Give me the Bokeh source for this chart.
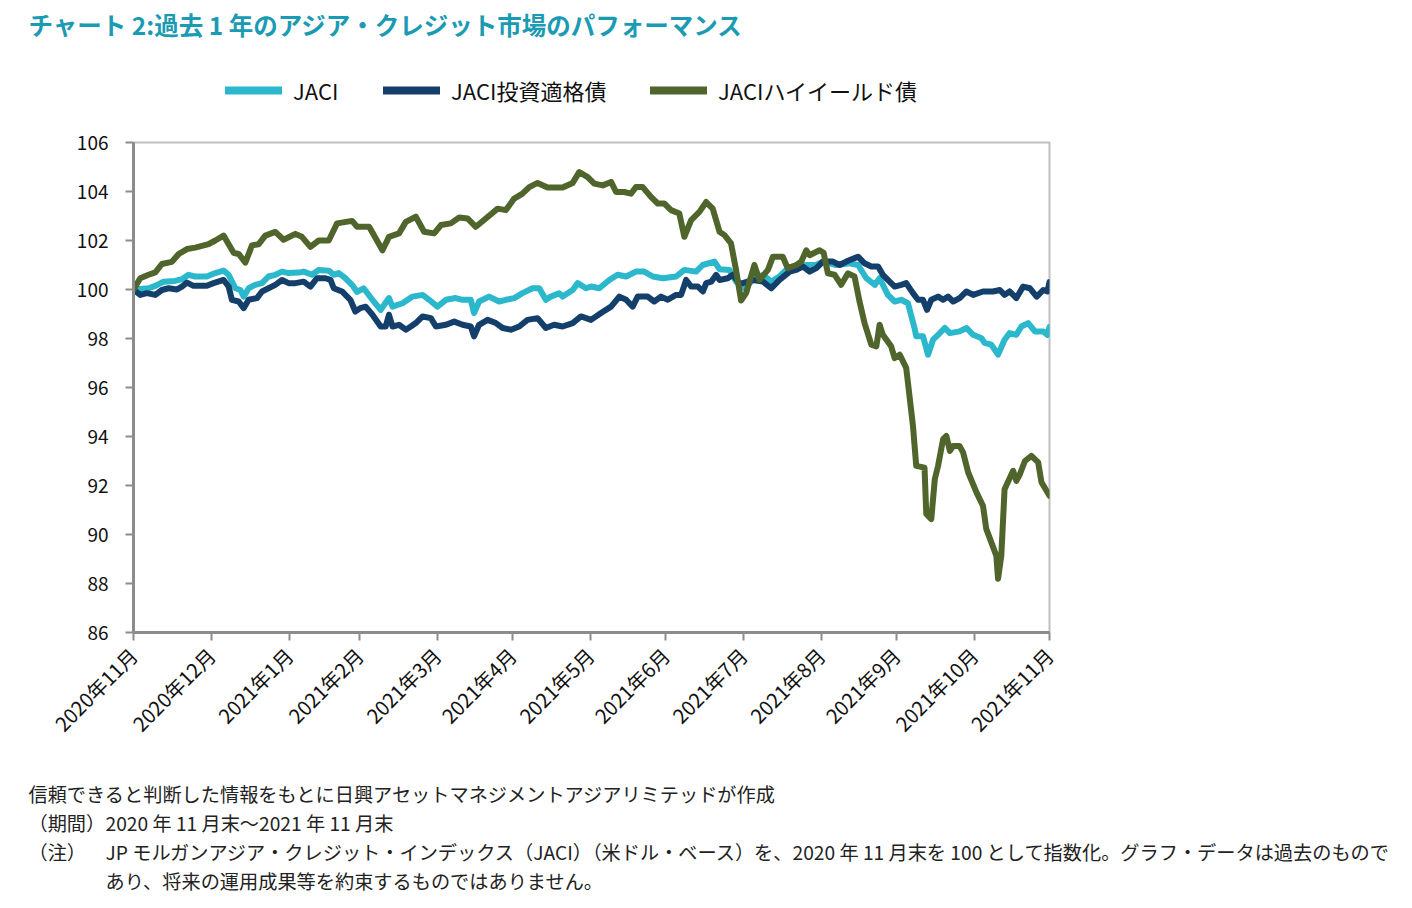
import datetime as dt
from math import pi, nan
from bokeh.plotting import figure
from bokeh.models import Range1d, FixedTicker, Legend, LegendItem, Label
from bokeh.embed import file_html
from bokeh.resources import INLINE

# ---------------- data (days after 2020-11-30, index level) ----------------
START = dt.datetime(2020, 11, 30)

jaci_days = [0, 6.0, 8.7, 12.0, 16.6, 19.3, 21.9, 24.6, 29.2, 32.6, 35.9, 37.9, 40.6, 42.6, 43.9, 45.9,
             48.5, 51.2, 53.8, 56.5, 59.2, 61.8, 65.8, 67.8, 71.1, 73.8, 77.8, 79.8, 81.8, 84.4, 87.1,
             89.1, 91.7, 95.2, 98.5, 101.8, 103.2, 107.2, 111.2, 115.2, 117.8, 121.1, 124.5, 128.4,
             131.1, 134.4, 135.7, 137.7, 141.7, 145.7, 148.4, 151.7, 155.0, 159.0, 161.7, 164.3, 166.3,
             169.6, 171.0, 175.0, 177.0, 180.3, 182.3, 185.6, 189.6, 192.9, 196.3, 200.2, 203.5, 206.9,
             210.9, 216.2, 219.5, 224.2, 226.8, 231.5, 233.5, 237.5, 240.1, 243.4, 246.8, 250.8, 254.1,
             257.4, 260.1, 264.1, 268.1, 272.1, 274.7, 280.0, 285.3, 288.7, 292.0, 295.4, 297.3, 300.6,
             303.3, 305.9, 308.6, 311.2, 311.9, 314.6, 316.6, 318.6, 320.6, 323.3, 325.3, 329.2, 331.9,
             334.6, 337.9, 339.2, 341.8, 344.5, 347.1, 349.1, 351.8, 353.8, 356.5, 359.2, 362.5, 364.2, 365]
jaci_vals = [100.0, 100.05, 100.15, 100.32, 100.35, 100.42, 100.6, 100.53, 100.53, 100.67, 100.77, 100.6,
             100.05, 99.98, 99.71, 100.05, 100.19, 100.26, 100.53, 100.6, 100.73, 100.67, 100.69, 100.73,
             100.6, 100.8, 100.77, 100.6, 100.67, 100.46, 100.19, 99.9, 100.05, 99.58, 99.17, 99.65, 99.3,
             99.44, 99.71, 99.78, 99.58, 99.3, 99.58, 99.65, 99.58, 99.58, 99.04, 99.51, 99.71, 99.51,
             99.58, 99.65, 99.85, 100.05, 100.05, 99.58, 99.71, 99.85, 99.71, 99.98, 100.26, 100.05,
             100.12, 100.05, 100.39, 100.6, 100.53, 100.73, 100.73, 100.53, 100.46, 100.53, 100.8, 100.73,
             101.0, 101.14, 100.83, 100.8, 100.32, 100.05, 100.39, 100.6, 100.32, 100.53, 100.8, 100.94,
             101.0, 101.0, 101.14, 101.0, 101.07, 101.0, 100.46, 100.19, 100.46, 99.78, 99.51, 99.58,
             99.44, 98.43, 98.09, 98.09, 97.34, 97.95, 98.15, 98.43, 98.22, 98.29, 98.43, 98.15, 98.01,
             97.82, 97.75, 97.34, 97.95, 98.22, 98.15, 98.49, 98.63, 98.29, 98.29, 98.15, 98.47]

ig_days = [0, 2.7, 5.3, 8.7, 11.3, 14.0, 17.3, 19.3, 21.3, 23.9, 29.2, 31.9, 35.9, 37.9, 39.2, 41.9, 43.9,
           45.9, 49.2, 51.2, 53.8, 56.5, 59.2, 61.8, 64.5, 67.8, 70.5, 73.1, 76.5, 78.5, 79.8, 83.1, 86.4,
           88.4, 90.4, 92.5, 95.2, 98.5, 100.5, 101.8, 103.2, 105.8, 108.5, 110.5, 112.5, 115.2, 118.5,
           120.5, 124.5, 127.8, 131.1, 134.4, 135.7, 137.7, 141.1, 144.4, 147.1, 150.4, 153.7, 157.0,
           161.0, 164.3, 167.6, 171.0, 175.0, 178.3, 182.3, 186.3, 190.3, 193.6, 196.3, 198.9, 200.9,
           204.9, 207.5, 210.2, 212.9, 216.2, 218.2, 220.2, 222.2, 224.9, 226.9, 228.2, 230.2, 232.2,
           233.5, 236.8, 238.8, 241.4, 242.8, 246.8, 250.8, 254.1, 257.4, 261.5, 264.1, 266.7, 269.4,
           272.1, 274.7, 278.7, 281.4, 284.0, 288.7, 291.3, 294.0, 296.7, 298.6, 300.6, 303.3, 305.9,
           307.9, 310.6, 312.6, 314.6, 316.2, 317.9, 320.6, 322.6, 324.6, 326.6, 329.2, 331.9, 334.6,
           338.5, 342.5, 345.2, 347.1, 349.1, 351.8, 354.5, 357.2, 359.9, 362.5, 364.2, 365]
ig_vals = [100.0, 99.78, 99.85, 99.78, 99.98, 100.05, 100.0, 100.12, 100.28, 100.15, 100.15, 100.26,
           100.39, 100.12, 99.58, 99.51, 99.24, 99.58, 99.65, 99.92, 100.05, 100.19, 100.39, 100.26,
           100.26, 100.32, 100.12, 100.46, 100.46, 100.39, 100.05, 99.92, 99.58, 99.1, 99.24, 99.3,
           98.97, 98.49, 98.49, 98.97, 98.49, 98.56, 98.36, 98.49, 98.63, 98.9, 98.83, 98.49, 98.56,
           98.69, 98.56, 98.49, 98.09, 98.56, 98.76, 98.63, 98.43, 98.36, 98.49, 98.76, 98.83, 98.43,
           98.56, 98.49, 98.63, 98.9, 98.76, 99.04, 99.3, 99.71, 99.58, 99.3, 99.71, 99.71, 99.51,
           99.71, 99.58, 99.78, 99.78, 100.39, 100.12, 100.12, 99.92, 100.26, 100.32, 100.6, 100.39,
           100.46, 100.6, 100.26, 100.26, 100.39, 100.32, 100.05, 100.39, 100.73, 100.8, 100.94, 100.73,
           100.87, 101.14, 101.14, 101.0, 101.14, 101.34, 101.07, 100.94, 100.94, 100.6, 100.39, 100.12,
           100.19, 100.26, 99.85, 99.58, 99.58, 99.17, 99.58, 99.71, 99.58, 99.71, 99.51, 99.65, 99.92,
           99.78, 99.92, 99.92, 99.98, 99.78, 99.92, 99.65, 100.12, 100.05, 99.71, 99.98, 99.92, 100.3]

hy_days = [0, 2.7, 6.0, 8.7, 11.3, 15.3, 18.0, 21.3, 24.6, 29.9, 32.6, 35.9, 37.9, 39.9, 41.9, 44.6,
           47.2, 49.9, 52.5, 56.5, 59.8, 64.5, 67.1, 70.5, 73.8, 77.8, 81.1, 87.1, 89.1, 93.9, 99.2,
           101.8, 105.8, 108.5, 112.5, 115.8, 119.8, 122.5, 126.4, 129.8, 133.1, 136.4, 140.4, 145.1,
           148.4, 151.7, 155.0, 157.7, 161.0, 165.0, 171.0, 175.0, 177.6, 181.0, 183.6, 187.0, 190.3,
           192.3, 195.6, 198.2, 200.2, 202.9, 206.2, 208.9, 211.5, 214.2, 217.5, 219.5, 222.2, 225.5,
           228.2, 230.8, 233.5, 235.5, 238.1, 240.1, 242.1, 244.1, 247.4, 249.4, 252.8, 254.8, 258.7,
           260.7, 264.1, 266.1, 268.1, 269.4, 273.4, 275.0, 276.7, 279.4, 282.0, 284.7, 287.3, 289.3,
           291.3, 294.0, 296.0, 297.3, 298.6, 301.9, 303.3, 305.3, 307.9, 310.6, 311.9, 315.2, 315.9,
           317.9, 319.3, 320.6, 322.6, 323.9, 325.3, 326.6, 329.2, 330.6, 332.6, 335.9, 338.5, 339.8,
           343.8, 344.5, 345.8, 347.1, 350.5, 351.8, 353.2, 355.2, 357.8, 360.5, 361.8, 365]
hy_vals = [100.0, 100.46, 100.6, 100.7, 101.04, 101.13, 101.45, 101.65, 101.71, 101.85, 102.0, 102.2,
           101.85, 101.5, 101.45, 101.1, 101.8, 101.85, 102.2, 102.35, 102.03, 102.27, 102.15, 101.74,
           102.0, 102.0, 102.7, 102.8, 102.56, 102.56, 101.6, 102.15, 102.29, 102.76, 102.97, 102.36,
           102.29, 102.63, 102.7, 102.94, 102.9, 102.56, 102.9, 103.3, 103.24, 103.71, 103.91, 104.18,
           104.35, 104.16, 104.16, 104.35, 104.79, 104.59, 104.32, 104.25, 104.39, 103.98, 103.98,
           103.91, 104.18, 104.18, 103.78, 103.51, 103.51, 103.24, 103.1, 102.15, 102.83, 103.17,
           103.57, 103.3, 102.36, 102.22, 101.88, 100.8, 99.55, 99.85, 101.0, 100.39, 100.8, 101.34,
           101.34, 100.87, 101.0, 101.14, 101.6, 101.4, 101.6, 101.5, 100.66, 100.6, 100.19, 100.66,
           100.53, 99.51, 98.63, 97.75, 97.68, 98.56, 98.15, 97.68, 97.2, 97.34, 96.8, 94.43, 92.8,
           92.73, 90.84, 90.63, 92.26, 92.8, 93.89, 94.02, 93.41, 93.61, 93.61, 93.34, 92.53, 91.72,
           91.17, 90.23, 89.14, 88.19, 89.14, 91.85, 92.6, 92.19, 92.46, 93.0, 93.21, 92.94, 92.13, 91.58]

series_names = ["JACI", "JACI投資適格債", "JACIハイイールド債"]
tick_months = [(2020, 11), (2020, 12), (2021, 1), (2021, 2), (2021, 3), (2021, 4), (2021, 5),
               (2021, 6), (2021, 7), (2021, 8), (2021, 9), (2021, 10), (2021, 11)]
y_ticks = [86, 88, 90, 92, 94, 96, 98, 100, 102, 104, 106]

title_text = "チャート 2:過去 1 年のアジア・クレジット市場のパフォーマンス"
note_heads = ["信頼できると判断した情報をもとに日興アセットマネジメントアジアリミテッドが作成",
              "（期間）", "（注）", None]
note_bodies = [None,
               "2020 年 11 月末～2021 年 11 月末",
               "JP モルガンアジア・クレジット・インデックス（JACI）（米ドル・ベース）を、2020 年 11 月末を 100 として指数化。グラフ・データは過去のもので",
               "あり、将来の運用成果等を約束するものではありません。"]

# ---------------- helpers ----------------
def to_dates(days):
    return [START + dt.timedelta(days=d) for d in days]

def month_end(y, m):
    nxt = dt.datetime(y + 1, 1, 1) if m == 12 else dt.datetime(y, m + 1, 1)
    return nxt - dt.timedelta(days=1)

def ms(d):
    return (d - dt.datetime(1970, 1, 1)).total_seconds() * 1000.0

FONT = "Noto Sans CJK JP"
W = 1400
colors = ["#2BB7CC", "#143F6A", "#50652B"]

def blank_fig(h):
    f = figure(width=W, height=h, output_backend="svg", toolbar_location=None,
               x_axis_type=None, y_axis_type=None, x_range=Range1d(0, 1), y_range=Range1d(0, 1),
               min_border=0)
    f.outline_line_color = None
    f.xgrid.visible = False
    f.ygrid.visible = False
    return f

# ---------------- header: title + legend (page y 0..128) ----------------
TOP_H = 128
top = blank_fig(TOP_H)
top.add_layout(Label(x=28, y=TOP_H - 24, x_units="screen", y_units="screen", text=title_text,
                     text_font=FONT, text_font_size="24.5px", text_font_style="bold",
                     text_color="#1A9BB3", text_baseline="middle"))
leg_x = [225, 383, 650]
for name, c, lx in zip(series_names, colors, leg_x):
    r = top.line(x=[nan], y=[nan], line_color=c, line_width=8, line_cap="round")
    lg = Legend(items=[LegendItem(label=name, renderers=[r])], location=(lx, TOP_H - 93 - 13),
                orientation="horizontal", glyph_width=57, glyph_height=26, label_standoff=11,
                padding=0, margin=0, border_line_color=None, background_fill_alpha=0,
                label_text_font=FONT, label_text_font_size="22px", label_text_color="#111111",
                label_height=26, label_text_baseline="middle")
    top.add_layout(lg)

# ---------------- main chart (page y 128..750, frame 142..634) ----------------
FL, FR, FT_PAD, FB_PAD = 133, 1049, 14, 116
p = figure(width=W, height=FT_PAD + 492 + FB_PAD, x_axis_type="datetime", output_backend="svg",
           toolbar_location=None,
           x_range=Range1d(ms(month_end(2020, 11)), ms(month_end(2021, 11))),
           y_range=Range1d(86, 106))
p.min_border_left = FL
p.min_border_right = W - FR
p.min_border_top = FT_PAD
p.min_border_bottom = FB_PAD
p.outline_line_color = "#BFBFBF"
p.outline_line_width = 2
p.xgrid.visible = False
p.ygrid.visible = False

tick_pos = [ms(month_end(y, m)) for (y, m) in tick_months]
p.xaxis.ticker = FixedTicker(ticks=tick_pos)
p.xaxis.major_label_overrides = {t: f"{y}年{m}月" for t, (y, m) in zip(tick_pos, tick_months)}
p.xaxis.major_label_orientation = pi / 4
p.yaxis.ticker = FixedTicker(ticks=y_ticks)
for ax in (p.xaxis, p.yaxis):
    ax.axis_line_color = "#8C8C8C"
    ax.axis_line_width = 3
    ax.major_tick_line_color = "#8C8C8C"
    ax.major_tick_line_width = 2
    ax.major_tick_out = 8
    ax.major_tick_in = 0
    ax.minor_tick_line_color = None
    ax.major_label_text_font = FONT
    ax.major_label_text_color = "#111111"
p.yaxis.major_label_text_font_size = "19px"
p.xaxis.major_label_text_font_size = "20px"
p.yaxis.major_label_standoff = 17
p.xaxis.major_label_standoff = 11

data = [(jaci_days, jaci_vals), (ig_days, ig_vals), (hy_days, hy_vals)]
for (d, v), c in zip(data, colors):
    p.line(to_dates(d), v, line_color=c, line_width=6, line_join="round", line_cap="round")

# ---------------- footer: notes (page y 750..900) ----------------
BOT_H = 150
bot = blank_fig(BOT_H)
note_y = [793, 822, 851, 880]   # row centres, page px
for head, body, yy in zip(note_heads, note_bodies, note_y):
    ys = BOT_H - (yy - 750)
    if head is not None:
        bot.add_layout(Label(x=28, y=ys, x_units="screen", y_units="screen", text=head,
                             text_font=FONT, text_font_size="19.2px", text_color="#222222",
                             text_baseline="middle"))
    if body is not None:
        bot.add_layout(Label(x=105, y=ys, x_units="screen", y_units="screen", text=body,
                             text_font=FONT, text_font_size="19.2px", text_color="#222222",
                             text_baseline="middle"))

open("out.html", "w").write(file_html([top, p, bot], INLINE))
